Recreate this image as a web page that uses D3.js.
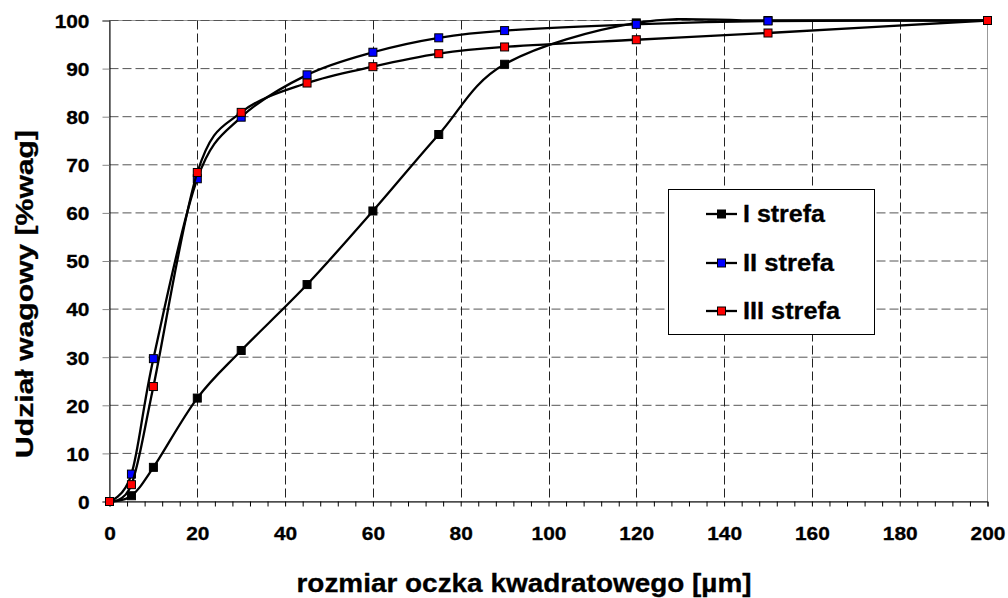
<!DOCTYPE html>
<html>
<head>
<meta charset="utf-8">
<script src="https://cdn.jsdelivr.net/npm/d3@7"></script>
<style>
	body { margin: 0; background: #fff; }
	svg { display: block; font-family: Arial, "Liberation Sans", sans-serif; font-weight: bold; }
	.txt { fill: #000; stroke: #000; stroke-width: 0.3px; }
</style>
</head>
<body>
<svg width="1008" height="598"></svg>
<script>
// sieve size [um]
const sizes = [0, 5, 10, 20, 30, 45, 60, 75, 90, 120, 150, 200];

// cumulative weight share [%wag]
const strefa1 = [0, 1.2, 7.1, 21.5, 31.4, 45.1, 60.4, 76.3, 90.9, 99.5, 100, 100];
const strefa2 = [0, 5.7, 29.7, 67.1, 79.9, 88.7, 93.4, 96.4, 97.9, 99.2, 99.9, 100];
const strefa3 = [0, 3.5, 23.9, 68.4, 80.9, 87.0, 90.4, 93.1, 94.5, 96.0, 97.4, 100];

const seriesNames = ["I strefa", "II strefa", "III strefa"];
const seriesColors = ["#000000", "#0000ff", "#ff0000"];

const xTicks = d3.range(0, 201, 20);
const yTicks = d3.range(0, 101, 10);

const svg = d3.select("svg");
const stretch = 1.1; // the original text is drawn a little wide

var x = d3.scaleLinear().domain([0, 200]).range([109.5, 987.5]);
var y = d3.scaleLinear().domain([0, 100]).range([501.5, 20.5]);

// plot frame (top/right)
svg.append("rect")
	.attr("x", x(0)).attr("y", y(100))
	.attr("width", x(200) - x(0)).attr("height", y(0) - y(100))
	.attr("fill", "none").attr("stroke", "#999").attr("stroke-width", 1);

// gridlines
svg.append("g")
	.selectAll("line")
	.data(yTicks.filter(d => d > 0))
	.enter().append("line")
	.attr("x1", x(0)).attr("x2", x(200))
	.attr("y1", d => y(d)).attr("y2", d => y(d))
	.attr("stroke", "#555").attr("stroke-dasharray", "9,4");

svg.append("g")
	.selectAll("line")
	.data(xTicks.filter(d => d > 0 && d < 200))
	.enter().append("line")
	.attr("x1", d => Math.round(x(d)) + 0.5).attr("x2", d => Math.round(x(d)) + 0.5)
	.attr("y1", y(100)).attr("y2", y(0))
	.attr("stroke", "#222").attr("stroke-dasharray", "9,4");

// axes
var xAxis = svg.append("g")
	.attr("transform", `translate(0,${y(0)})`)
	.call(d3.axisBottom(x).tickValues(d3.range(0, 201, 4)).tickSize(5).tickFormat(""));
xAxis.select(".domain").attr("stroke", "#000");

var xLabels = svg.append("g")
	.attr("transform", `translate(0,${y(0)})`)
	.call(d3.axisBottom(x).tickValues(xTicks).tickSize(0));
xLabels.select(".domain").remove();
xLabels.selectAll("text")
	.attr("class", "txt")
	.attr("x", 0).attr("y", 38.5).attr("dy", 0)
	.attr("font-size", 19).attr("font-family", "Arial, 'Liberation Sans', sans-serif")
	.attr("font-weight", "bold")
	.attr("transform", `scale(${stretch},1)`);

var yAxis = svg.append("g")
	.attr("transform", `translate(${x(0)},0)`)
	.call(d3.axisLeft(y).tickValues(yTicks).tickSize(7));
yAxis.select(".domain").attr("stroke", "#000");
yAxis.selectAll("line").attr("stroke", "#888");
yAxis.selectAll("text")
	.attr("class", "txt")
	.attr("x", -20 / stretch).attr("dy", "0.36em")
	.attr("font-size", 19).attr("font-family", "Arial, 'Liberation Sans', sans-serif")
	.attr("font-weight", "bold")
	.attr("transform", `scale(${stretch},1)`);

// axis titles
svg.append("text")
	.attr("class", "txt")
	.attr("x", 524).attr("y", 592)
	.attr("text-anchor", "middle")
	.attr("font-size", 25)
	.attr("textLength", 455).attr("lengthAdjust", "spacingAndGlyphs")
	.text("rozmiar oczka kwadratowego [µm]");

svg.append("text")
	.attr("class", "txt")
	.attr("transform", "translate(33,294) rotate(-90)")
	.attr("text-anchor", "middle")
	.attr("font-size", 24)
	.attr("textLength", 328).attr("lengthAdjust", "spacingAndGlyphs")
	.text("Udział wagowy [%wag]");

// series
const allSeries = [strefa1, strefa2, strefa3];

var line = d3.line()
	.x((d, i) => x(sizes[i]))
	.y(d => y(d))
	.curve(d3.curveCardinal.tension(0));

allSeries.forEach(function(values, s) {
	var g = svg.append("g");
	g.append("path")
		.attr("d", line(values))
		.attr("fill", "none")
		.attr("stroke", "#000")
		.attr("stroke-width", 2.3);
	g.selectAll("rect")
		.data(values)
		.enter().append("rect")
		.attr("x", (d, i) => x(sizes[i]) - 4)
		.attr("y", d => y(d) - 4)
		.attr("width", 8).attr("height", 8)
		.attr("fill", seriesColors[s])
		.attr("stroke", "#000").attr("stroke-width", 1);
});

// legend
var legend = svg.append("g");
legend.append("rect")
	.attr("x", 668.5).attr("y", 189.5)
	.attr("width", 206).attr("height", 145)
	.attr("fill", "#fff").attr("stroke", "#000");

const legendRows = [214, 263, 311];
const legendWidths = [82, 91, 97];

seriesNames.forEach(function(name, i) {
	var row = legend.append("g").attr("transform", `translate(0,${legendRows[i]})`);
	row.append("line")
		.attr("x1", 706).attr("x2", 737)
		.attr("stroke", "#000").attr("stroke-width", 2.3);
	row.append("rect")
		.attr("x", 717.5).attr("y", -4)
		.attr("width", 8).attr("height", 8)
		.attr("fill", seriesColors[i]).attr("stroke", "#000");
	row.append("text")
		.attr("class", "txt")
		.attr("x", 743).attr("y", 8)
		.attr("font-size", 23)
		.attr("textLength", legendWidths[i]).attr("lengthAdjust", "spacingAndGlyphs")
		.text(name);
});
</script>
</body>
</html>
